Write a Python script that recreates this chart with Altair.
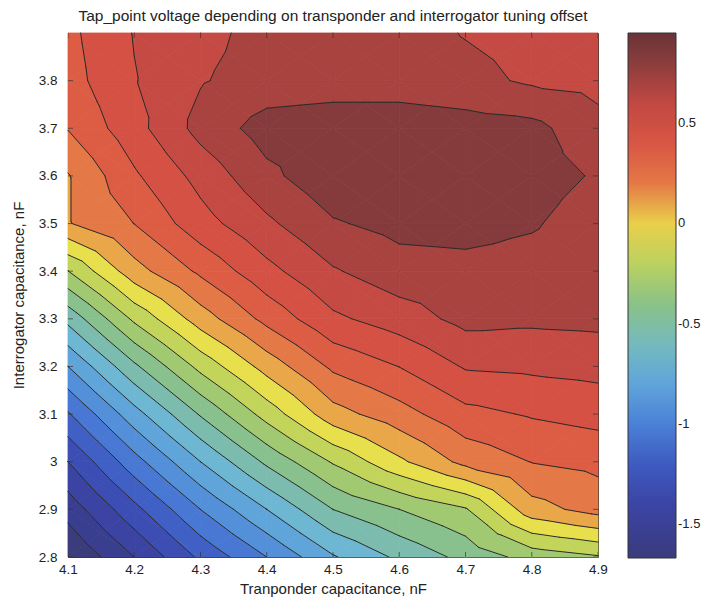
import numpy as np
import pandas as pd
import altair as alt

# ---------------- data ----------------
x_vals = [4.1, 4.2, 4.3, 4.4, 4.5, 4.6, 4.7, 4.8, 4.9]
y_vals = [2.8, 2.9, 3.0, 3.1, 3.2, 3.3, 3.4, 3.5, 3.6, 3.7, 3.8, 3.9]

# tap-point voltage, one list per interrogator capacitance row (x = 4.1 ... 4.9)
v_2_8 = [-1.670, -1.420, -1.146, -0.921, -0.684, -0.522, -0.385, -0.248, -0.185]
v_2_9 = [-1.495, -1.208, -0.921, -0.672, -0.422, -0.298, -0.185, 0.152, 0.251]
v_3_0 = [-1.296, -0.971, -0.672, -0.397, -0.160, 0.052, 0.239, 0.330, 0.361]
v_3_1 = [-1.059, -0.722, -0.410, -0.123, 0.152, 0.276, 0.414, 0.463, 0.497]
v_3_2 = [-0.797, -0.447, -0.135, 0.127, 0.351, 0.453, 0.588, 0.601, 0.618]
v_3_3 = [-0.510, -0.148, 0.139, 0.364, 0.551, 0.638, 0.738, 0.725, 0.733]
v_3_4 = [-0.175, 0.152, 0.351, 0.538, 0.688, 0.775, 0.788, 0.775, 0.750]
v_3_5 = [0.193, 0.328, 0.526, 0.676, 0.813, 0.863, 0.869, 0.838, 0.763]
v_3_6 = [0.193, 0.432, 0.619, 0.794, 0.913, 0.950, 0.937, 0.875, 0.813]
v_3_7 = [0.332, 0.530, 0.743, 0.880, 0.900, 0.900, 0.881, 0.863, 0.738]
v_3_8 = [0.401, 0.569, 0.692, 0.750, 0.763, 0.763, 0.738, 0.682, 0.663]
v_3_9 = [0.420, 0.582, 0.663, 0.744, 0.763, 0.750, 0.694, 0.663, 0.638]

x_ticks = [4.1, 4.2, 4.3, 4.4, 4.5, 4.6, 4.7, 4.8, 4.9]
y_ticks = [2.8, 2.9, 3.0, 3.1, 3.2, 3.3, 3.4, 3.5, 3.6, 3.7, 3.8]
cbar_ticks = [-1.5, -1, -0.5, 0, 0.5]
n_levels = 20

title_text = "Tap_point voltage depending on transponder and interrogator tuning offset"
x_title = "Tranponder capacitance, nF"
y_title = "Interrogator capacitance, nF"

# faded "jet" colormap as seen in the scan (style)
cmap = ["#3a3c7c", "#3a3f95", "#3b48ad", "#3f5ec4", "#4a7ed6", "#5a9ddc",
        "#6cb6d6", "#7dbda8", "#8fc47c", "#bcd25e", "#ebe04a", "#e88a48",
        "#de6044", "#d45044", "#bf4742", "#8e3e3e", "#6a3337"]

# ---------------- filled contours built from the grid ----------------
Z = np.array([v_2_8, v_2_9, v_3_0, v_3_1, v_3_2, v_3_3, v_3_4,
              v_3_5, v_3_6, v_3_7, v_3_8, v_3_9], dtype=float)
zmin, zmax = float(Z.min()), float(Z.max())
levels = list(np.linspace(zmin, zmax, n_levels + 2)[1:-1])
band_lo = [zmin] + levels
band_hi = levels + [zmax]


def clip(poly, lv, above):
    out = []
    n = len(poly)
    for i in range(n):
        p = poly[i]
        q = poly[(i + 1) % n]
        pin = (p[2] >= lv) if above else (p[2] <= lv)
        qin = (q[2] >= lv) if above else (q[2] <= lv)
        if pin:
            out.append(p)
        if pin != qin:
            t = (lv - p[2]) / (q[2] - p[2])
            out.append((p[0] + t * (q[0] - p[0]), p[1] + t * (q[1] - p[1]), lv))
    return out


tris = []
for j in range(len(y_vals) - 1):
    for i in range(len(x_vals) - 1):
        a = (x_vals[i], y_vals[j], Z[j, i])
        b = (x_vals[i + 1], y_vals[j], Z[j, i + 1])
        c = (x_vals[i + 1], y_vals[j + 1], Z[j + 1, i + 1])
        d = (x_vals[i], y_vals[j + 1], Z[j + 1, i])
        m = ((a[0] + b[0]) / 2, (a[1] + d[1]) / 2, (a[2] + b[2] + c[2] + d[2]) / 4)
        tris += [(m, a, b), (m, b, c), (m, c, d), (m, d, a)]

poly_rows = []
pid = 0
nb = len(band_lo)
for tri in tris:
    zs = [p[2] for p in tri]
    for k in range(nb):
        lo, hi = band_lo[k], band_hi[k]
        if max(zs) < lo or min(zs) > hi:
            continue
        poly = list(tri)
        if k > 0:
            poly = clip(poly, lo, True)
        if len(poly) >= 3 and k < nb - 1:
            poly = clip(poly, hi, False)
        if len(poly) < 3:
            continue
        n = len(poly)
        area = 0.5 * abs(sum(poly[i][0] * poly[(i + 1) % n][1] - poly[(i + 1) % n][0] * poly[i][1]
                             for i in range(n)))
        if area < 1e-10:
            continue
        for o, p in enumerate(poly + [poly[0]]):
            poly_rows.append({"pid": pid, "o": o, "x": round(p[0], 5), "y": round(p[1], 5), "v": lo})
        pid += 1
poly_df = pd.DataFrame(poly_rows)

seg_rows = []
for tri in tris:
    for L in levels:
        pts = []
        for s in range(3):
            p, q = tri[s], tri[(s + 1) % 3]
            if (p[2] - L) * (q[2] - L) < 0:
                t = (L - p[2]) / (q[2] - p[2])
                pts.append((p[0] + t * (q[0] - p[0]), p[1] + t * (q[1] - p[1])))
        if len(pts) == 2:
            seg_rows.append({"x": round(pts[0][0], 5), "y": round(pts[0][1], 5),
                             "x2": round(pts[1][0], 5), "y2": round(pts[1][1], 5)})
seg_df = pd.DataFrame(seg_rows)

node_df = pd.DataFrame([{"x": x_vals[i], "y": y_vals[j], "v": Z[j, i]}
                        for j in range(len(y_vals)) for i in range(len(x_vals))])

# ---------------- chart ----------------
FONT = "Liberation Sans"
dom = list(np.linspace(zmin, zmax, len(cmap)))
cscale = alt.Scale(domain=dom, range=cmap, interpolate="rgb")
xs = alt.Scale(domain=[x_vals[0], x_vals[-1]], nice=False, zero=False)
ys = alt.Scale(domain=[y_vals[0], y_vals[-1]], nice=False, zero=False)

x_axis = alt.Axis(values=x_ticks, labelExpr="'' + datum.value", ticks=False, domain=False, grid=False,
                  labelPadding=5, labelFont=FONT, labelFontSize=13.5, labelColor="#222",
                  labelFlush=False, labelOverlap=False,
                  title=x_title, titleFont=FONT, titleFontSize=15, titleFontWeight="normal",
                  titleColor="#222", titleX=265, titleY=36, titleBaseline="alphabetic",
                  titleAlign="center")
y_axis = alt.Axis(values=y_ticks, labelExpr="'' + datum.value", ticks=False, domain=False, grid=False,
                  labelPadding=11, labelFont=FONT, labelFontSize=13.5, labelColor="#222",
                  labelFlush=False, labelOverlap=False,
                  title=y_title, titleFont=FONT, titleFontSize=15, titleFontWeight="normal",
                  titleColor="#222", titleX=-45, titleY=262, titleAngle=270,
                  titleBaseline="alphabetic", titleAlign="center")

# hidden node layer (under the fills) that carries the colour-bar legend
colorbar = alt.Chart(node_df).mark_circle(size=1, opacity=1, clip=True).encode(
    x=alt.X("x:Q", scale=xs, axis=x_axis),
    y=alt.Y("y:Q", scale=ys, axis=y_axis),
    fill=alt.Fill("v:Q", scale=cscale,
                  legend=alt.Legend(type="gradient", orient="none", legendX=560, legendY=0,
                                    direction="vertical", gradientLength=525, gradientThickness=48,
                                    title=None, values=cbar_ticks, labelExpr="'' + datum.value",
                                    labelFont=FONT, labelFontSize=13, labelColor="#222",
                                    labelOffset=2, gradientStrokeColor="#333",
                                    gradientStrokeWidth=1, labelOverlap=False, padding=0)),
)

fills = alt.Chart(poly_df).mark_line(strokeWidth=0.8, strokeJoin="round").encode(
    x=alt.X("x:Q", scale=xs),
    y=alt.Y("y:Q", scale=ys),
    detail="pid:N",
    order="o:Q",
    fill=alt.Fill("v:Q", scale=cscale, legend=None),
    stroke=alt.Stroke("v:Q", scale=cscale, legend=None),
)

lines = alt.Chart(seg_df).mark_rule(color="#2a2a2a", strokeWidth=1, strokeCap="round").encode(
    x=alt.X("x:Q", scale=xs), y=alt.Y("y:Q", scale=ys), x2="x2:Q", y2="y2:Q")

xt = pd.DataFrame({"t": x_ticks})
yt = pd.DataFrame({"t": y_ticks})
tick_style = dict(size=10, thickness=1, color="#333", clip=True)
t_bottom = alt.Chart(xt).mark_tick(orient="vertical", **tick_style).encode(
    x=alt.X("t:Q", scale=xs), y=alt.datum(y_vals[0]))
t_top = alt.Chart(xt).mark_tick(orient="vertical", **tick_style).encode(
    x=alt.X("t:Q", scale=xs), y=alt.datum(y_vals[-1]))
t_left = alt.Chart(yt).mark_tick(orient="horizontal", **tick_style).encode(
    y=alt.Y("t:Q", scale=ys), x=alt.datum(x_vals[0]))
t_right = alt.Chart(yt).mark_tick(orient="horizontal", **tick_style).encode(
    y=alt.Y("t:Q", scale=ys), x=alt.datum(x_vals[-1]))

chart = alt.layer(colorbar, fills, lines, t_bottom, t_top, t_left, t_right).resolve_scale(
    fill="independent"
).properties(
    width=530, height=524,
    autosize=alt.AutoSizeParams(type="none"),
    padding={"left": 60, "top": 25, "right": 104, "bottom": 40},
    title=alt.Title(title_text, anchor="middle", frame="group", offset=12, dy=16,
                    baseline="alphabetic", font=FONT, fontSize=15.5,
                    fontWeight="normal", color="#222"),
).configure_view(stroke="#333", strokeWidth=1)

chart.save("out.html", embed_options={"renderer": "svg", "actions": False})
